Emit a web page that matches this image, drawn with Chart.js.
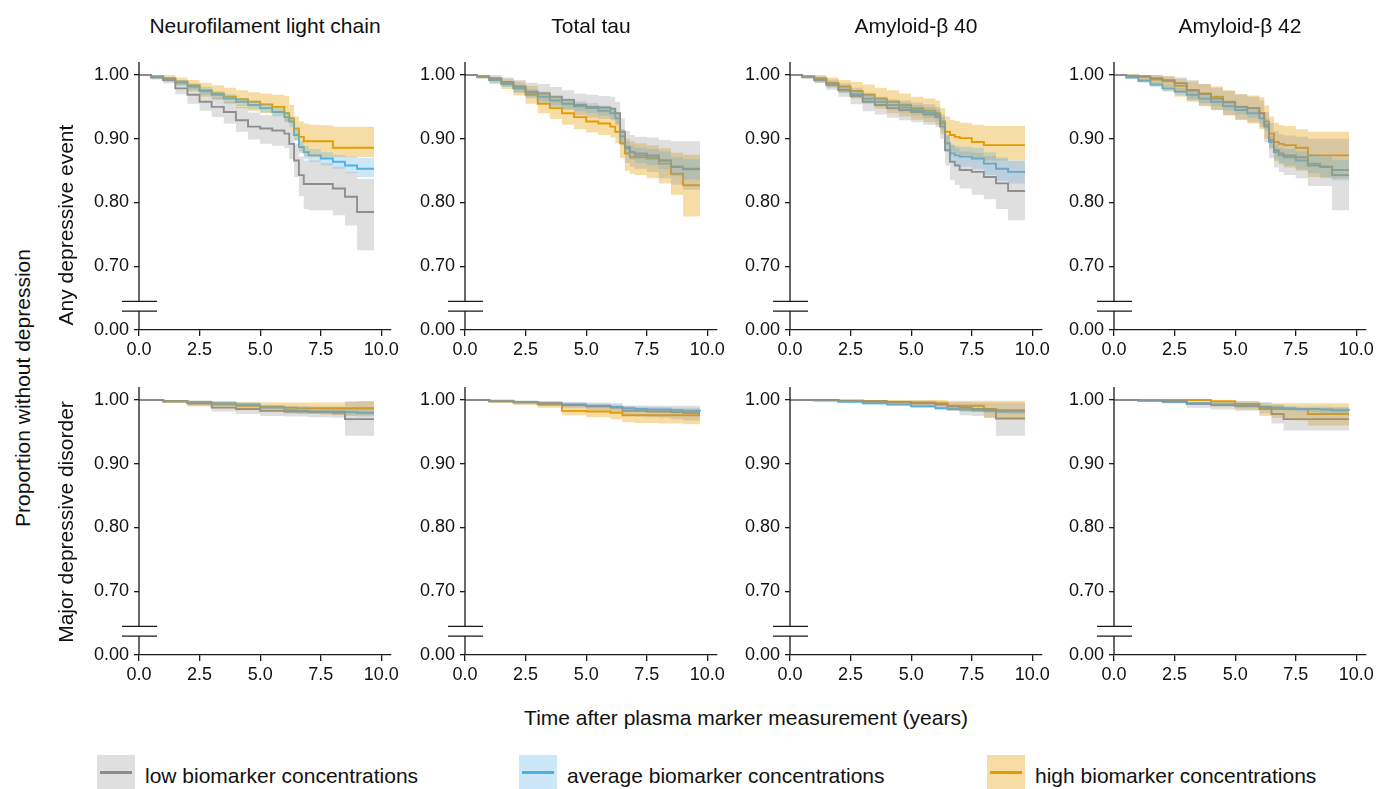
<!DOCTYPE html>
<html>
<head>
<meta charset="utf-8">
<title>Plasma markers and depression</title>
<script src="https://cdn.jsdelivr.net/npm/chart.js@4.4.1/dist/chart.umd.min.js"></script>
<style>
  html, body { margin: 0; padding: 0; background: #fff; }
  body { width: 1389px; height: 789px; position: relative; overflow: hidden;
         font-family: "Liberation Sans", Arial, Helvetica, sans-serif; color: #111; }
  canvas.panel { position: absolute; }
  .txt { position: absolute; white-space: nowrap; font-size: 21px; line-height: 1; transform: translate(-50%, -50%); }
  .rot { transform: translate(-50%, -50%) rotate(-90deg); }
  .key { position: absolute; top: 755px; width: 38px; height: 36px; }
  .key span { position: absolute; left: 3px; right: 3px; top: 16px; height: 3px; }
  .keytxt { position: absolute; top: 775px; font-size: 21px; line-height: 1; transform: translateY(-50%); white-space: nowrap; }
</style>
</head>
<body>
<script>
// ---- labels ----
const markerNames = ['Neurofilament light chain', 'Total tau', 'Amyloid-\u03b2 40', 'Amyloid-\u03b2 42'];
const outcomeNames = ['Any depressive event', 'Major depressive disorder'];
const groupNames = ['low biomarker concentrations', 'average biomarker concentrations', 'high biomarker concentrations'];
const yAxisTitle = 'Proportion without depression';
const xAxisTitle = 'Time after plasma marker measurement (years)';

// ---- ticks (0.60 on the scale is shown as 0.00 below the axis break) ----
const xTicks = [0, 2.5, 5, 7.5, 10];
const yTickValues = [0.6, 0.7, 0.8, 0.9, 1.0];
const yTickLabels = ['0.00', '0.70', '0.80', '0.90', '1.00'];

// ---- time grids (years) ----
const timesAny = [0, 0.5, 1, 1.5, 2, 2.5, 3, 3.5, 4, 4.5, 5, 5.5, 6, 6.2, 6.4, 6.6, 6.8, 7, 7.5, 8, 8.5, 9, 9.7];
const timesMdd = [0, 1, 2, 3, 4, 5, 6, 6.5, 7, 7.5, 8, 8.5, 9, 9.7];

// ---- any depressive event ----
const nflAnyLow      = [1.000,.996,.992,.979,.969,.958,.950,.942,.929,.919,.916,.913,.908,.892,.866,.843,.829,.829,.829,.822,.809,.785,.785];
const nflAnyLowLower = [1.000,.993,.987,.970,.955,.944,.934,.924,.911,.899,.892,.889,.885,.868,.840,.810,.790,.788,.788,.780,.764,.725,.725];
const nflAnyLowUpper = [1.000,.999,.997,.989,.982,.974,.966,.958,.950,.941,.937,.934,.932,.915,.892,.872,.866,.866,.862,.856,.848,.837,.837];
const nflAnyAvg      = [1.000,.997,.993,.988,.982,.975,.969,.963,.958,.953,.948,.942,.934,.927,.906,.887,.879,.874,.869,.864,.858,.853,.853];
const nflAnyAvgLower = [1.000,.995,.990,.984,.977,.969,.962,.956,.951,.946,.941,.934,.926,.918,.897,.877,.868,.864,.858,.853,.846,.840,.838];
const nflAnyAvgUpper = [1.000,.999,.996,.992,.987,.981,.975,.970,.964,.960,.955,.949,.942,.935,.915,.897,.889,.884,.879,.875,.872,.870,.870];
const nflAnyHigh      = [1.000,.998,.995,.990,.984,.976,.971,.966,.962,.958,.954,.950,.940,.932,.916,.903,.896,.896,.896,.886,.886,.886,.886];
const nflAnyHighLower = [1.000,.996,.990,.983,.974,.966,.961,.955,.948,.944,.940,.935,.927,.915,.898,.880,.872,.871,.871,.871,.871,.871,.871];
const nflAnyHighUpper = [1.000,1.000,1.000,.996,.992,.988,.984,.980,.976,.973,.971,.969,.967,.953,.935,.927,.924,.922,.921,.919,.919,.919,.919];

const tauAnyLow      = [1.000,.998,.995,.989,.982,.974,.971,.966,.961,.953,.950,.949,.947,.940,.911,.887,.879,.877,.874,.866,.856,.853,.853];
const tauAnyLowLower = [1.000,.996,.990,.982,.972,.963,.956,.950,.945,.937,.933,.931,.929,.921,.890,.862,.856,.853,.848,.838,.828,.820,.820];
const tauAnyLowUpper = [1.000,1.000,1.000,.996,.992,.988,.986,.981,.976,.971,.969,.967,.966,.958,.932,.912,.906,.903,.902,.898,.896,.896,.896];
const tauAnyAvg      = [1.000,.997,.992,.986,.979,.972,.966,.960,.955,.951,.948,.944,.940,.932,.904,.885,.879,.874,.871,.866,.856,.852,.852];
const tauAnyAvgLower = [1.000,.995,.988,.981,.973,.966,.959,.953,.947,.943,.940,.936,.931,.923,.894,.874,.867,.862,.858,.852,.841,.836,.836];
const tauAnyAvgUpper = [1.000,.999,.996,.991,.985,.978,.973,.967,.963,.959,.956,.952,.949,.941,.914,.896,.890,.886,.884,.880,.871,.868,.868];
const tauAnyHigh      = [1.000,.997,.992,.986,.979,.969,.955,.948,.940,.934,.927,.924,.919,.911,.893,.877,.871,.871,.869,.861,.845,.827,.827];
const tauAnyHighLower = [1.000,.994,.986,.978,.968,.955,.940,.931,.922,.915,.910,.906,.902,.893,.870,.850,.845,.843,.838,.830,.812,.778,.778];
const tauAnyHighUpper = [1.000,1.000,.997,.994,.990,.983,.974,.967,.961,.956,.952,.949,.946,.938,.915,.900,.896,.893,.890,.885,.878,.875,.875];

const ab40AnyLow      = [1.000,.997,.993,.985,.976,.967,.958,.953,.948,.945,.942,.938,.934,.919,.882,.864,.858,.851,.848,.840,.830,.818,.818];
const ab40AnyLowLower = [1.000,.994,.988,.977,.966,.954,.943,.938,.933,.929,.926,.922,.918,.900,.858,.835,.828,.822,.812,.805,.790,.772,.772];
const ab40AnyLowUpper = [1.000,1.000,.998,.993,.987,.980,.972,.966,.962,.960,.957,.954,.950,.938,.905,.890,.885,.880,.878,.873,.868,.865,.865];
const ab40AnyAvg      = [1.000,.997,.992,.985,.977,.970,.963,.958,.953,.949,.945,.941,.937,.924,.893,.877,.874,.872,.869,.861,.853,.848,.848];
const ab40AnyAvgLower = [1.000,.995,.989,.981,.972,.964,.956,.951,.946,.941,.937,.932,.928,.914,.880,.863,.859,.856,.852,.843,.834,.830,.830];
const ab40AnyAvgUpper = [1.000,.999,.995,.989,.982,.976,.970,.965,.960,.957,.953,.950,.946,.934,.906,.891,.889,.888,.886,.879,.871,.866,.866];
const ab40AnyHigh      = [1.000,.998,.995,.988,.982,.975,.969,.963,.958,.953,.948,.944,.940,.927,.911,.906,.903,.901,.895,.890,.890,.890,.890];
const ab40AnyHighLower = [1.000,.995,.988,.980,.972,.963,.955,.947,.940,.935,.930,.926,.922,.908,.890,.880,.877,.875,.870,.866,.866,.866,.866];
const ab40AnyHighUpper = [1.000,1.000,1.000,.996,.992,.989,.985,.980,.976,.971,.966,.963,.960,.948,.935,.930,.928,.925,.922,.920,.920,.920,.920];

const ab42AnyLow      = [1.000,.999,.998,.995,.992,.987,.976,.970,.963,.957,.950,.948,.940,.919,.898,.882,.877,.874,.871,.858,.856,.843,.843];
const ab42AnyLowLower = [1.000,.997,.992,.988,.982,.972,.960,.952,.945,.937,.930,.926,.918,.895,.870,.855,.848,.843,.838,.826,.826,.788,.788];
const ab42AnyLowUpper = [1.000,1.000,1.000,1.000,.998,.996,.992,.986,.980,.975,.970,.966,.960,.942,.925,.912,.907,.905,.903,.900,.900,.900,.900];
const ab42AnyAvg      = [1.000,.996,.991,.985,.979,.974,.969,.963,.958,.951,.945,.940,.932,.922,.895,.879,.874,.871,.866,.861,.856,.851,.851];
const ab42AnyAvgLower = [1.000,.994,.988,.981,.974,.968,.962,.956,.951,.944,.938,.932,.924,.913,.885,.868,.862,.858,.852,.846,.840,.835,.835];
const ab42AnyAvgUpper = [1.000,.998,.994,.989,.984,.980,.975,.970,.965,.958,.952,.948,.940,.931,.905,.890,.886,.884,.880,.876,.872,.867,.867];
const ab42AnyHigh      = [1.000,.999,.997,.993,.990,.983,.976,.971,.966,.958,.950,.948,.940,.927,.908,.895,.892,.890,.886,.874,.874,.874,.874];
const ab42AnyHighLower = [1.000,.996,.990,.983,.975,.966,.958,.951,.945,.937,.930,.924,.915,.900,.885,.865,.860,.855,.850,.840,.838,.838,.838];
const ab42AnyHighUpper = [1.000,1.000,1.000,1.000,.998,.994,.990,.986,.982,.976,.970,.968,.965,.952,.935,.925,.922,.920,.915,.911,.911,.911,.911];

// ---- major depressive disorder ----
const nflMddLow      = [1.000,.998,.995,.988,.986,.983,.982,.982,.981,.981,.980,.970,.970,.970];
const nflMddLowLower = [1.000,.996,.990,.982,.978,.975,.974,.974,.973,.973,.972,.944,.944,.944];
const nflMddLowUpper = [1.000,1.000,.999,.996,.994,.992,.991,.991,.990,.990,.990,.998,.998,.998];
const nflMddAvg      = [1.000,.998,.997,.995,.993,.988,.984,.983,.982,.982,.982,.981,.980,.980];
const nflMddAvgLower = [1.000,.997,.995,.992,.990,.985,.980,.979,.978,.978,.977,.975,.974,.974];
const nflMddAvgUpper = [1.000,.999,.999,.998,.996,.992,.988,.987,.986,.986,.986,.986,.986,.986];
const nflMddHigh      = [1.000,.998,.995,.993,.991,.989,.988,.987,.987,.987,.987,.987,.987,.987];
const nflMddHighLower = [1.000,.996,.991,.988,.984,.981,.979,.978,.978,.977,.976,.976,.976,.976];
const nflMddHighUpper = [1.000,1.000,.999,.998,.997,.996,.996,.996,.996,.996,.996,.997,.998,.998];

const tauMddLow      = [1.000,.998,.997,.995,.992,.990,.988,.983,.983,.982,.982,.981,.980,.980];
const tauMddLowLower = [1.000,.996,.994,.991,.987,.984,.981,.975,.974,.973,.972,.970,.968,.968];
const tauMddLowUpper = [1.000,1.000,.999,.998,.997,.996,.995,.991,.991,.991,.991,.991,.991,.991];
const tauMddAvg      = [1.000,.999,.997,.995,.993,.991,.989,.987,.986,.985,.985,.984,.983,.982];
const tauMddAvgLower = [1.000,.998,.995,.993,.990,.988,.986,.983,.982,.981,.980,.979,.978,.977];
const tauMddAvgUpper = [1.000,1.000,.999,.997,.996,.994,.993,.991,.990,.989,.989,.988,.988,.987];
const tauMddHigh      = [1.000,.998,.996,.993,.983,.982,.980,.976,.976,.976,.976,.976,.976,.976];
const tauMddHighLower = [1.000,.996,.992,.988,.976,.973,.970,.965,.964,.964,.963,.963,.962,.962];
const tauMddHighUpper = [1.000,1.000,.999,.998,.991,.990,.989,.986,.986,.986,.986,.986,.986,.986];

const ab40MddLow      = [1.000,1.000,.999,.998,.997,.995,.993,.990,.988,.986,.985,.971,.971,.971];
const ab40MddLowLower = [1.000,.999,.997,.995,.993,.990,.987,.983,.976,.975,.972,.944,.944,.944];
const ab40MddLowUpper = [1.000,1.000,1.000,1.000,.999,.999,.998,.997,.997,.996,.996,.996,.996,.996];
const ab40MddAvg      = [1.000,.999,.997,.995,.993,.990,.987,.986,.985,.984,.983,.982,.982,.982];
const ab40MddAvgLower = [1.000,.998,.996,.993,.991,.988,.985,.983,.982,.981,.980,.979,.978,.978];
const ab40MddAvgUpper = [1.000,1.000,.998,.997,.995,.992,.990,.989,.988,.987,.986,.986,.986,.986];
const ab40MddHigh      = [1.000,1.000,.999,.998,.997,.996,.995,.991,.991,.991,.986,.984,.984,.984];
const ab40MddHighLower = [1.000,.999,.997,.995,.993,.991,.990,.984,.982,.981,.972,.970,.970,.970];
const ab40MddHighUpper = [1.000,1.000,1.000,1.000,1.000,1.000,1.000,.999,.999,.999,.999,.999,.999,.999];

const ab42MddLow      = [1.000,.999,.998,.994,.992,.991,.988,.978,.970,.970,.970,.970,.970,.970];
const ab42MddLowLower = [1.000,.998,.995,.988,.985,.983,.979,.963,.952,.952,.952,.952,.952,.952];
const ab42MddLowUpper = [1.000,1.000,1.000,.999,.998,.998,.997,.993,.988,.988,.988,.988,.988,.988];
const ab42MddAvg      = [1.000,.999,.997,.995,.993,.991,.989,.988,.987,.986,.986,.985,.984,.983];
const ab42MddAvgLower = [1.000,.998,.995,.993,.990,.988,.985,.984,.983,.982,.981,.980,.979,.978];
const ab42MddAvgUpper = [1.000,1.000,.999,.997,.996,.994,.992,.992,.991,.990,.990,.990,.989,.988];
const ab42MddHigh      = [1.000,1.000,1.000,1.000,.998,.994,.986,.986,.986,.986,.978,.978,.978,.978];
const ab42MddHighLower = [1.000,1.000,1.000,.999,.990,.985,.975,.972,.970,.968,.960,.960,.960,.960];
const ab42MddHighUpper = [1.000,1.000,1.000,1.000,.999,.998,.995,.995,.995,.995,.995,.995,.995,.995];

// ---- panels: [row, col, times, low, average, high] ----
const panels = [
  [0, 0, timesAny, [nflAnyLow, nflAnyLowLower, nflAnyLowUpper], [nflAnyAvg, nflAnyAvgLower, nflAnyAvgUpper], [nflAnyHigh, nflAnyHighLower, nflAnyHighUpper]],
  [0, 1, timesAny, [tauAnyLow, tauAnyLowLower, tauAnyLowUpper], [tauAnyAvg, tauAnyAvgLower, tauAnyAvgUpper], [tauAnyHigh, tauAnyHighLower, tauAnyHighUpper]],
  [0, 2, timesAny, [ab40AnyLow, ab40AnyLowLower, ab40AnyLowUpper], [ab40AnyAvg, ab40AnyAvgLower, ab40AnyAvgUpper], [ab40AnyHigh, ab40AnyHighLower, ab40AnyHighUpper]],
  [0, 3, timesAny, [ab42AnyLow, ab42AnyLowLower, ab42AnyLowUpper], [ab42AnyAvg, ab42AnyAvgLower, ab42AnyAvgUpper], [ab42AnyHigh, ab42AnyHighLower, ab42AnyHighUpper]],
  [1, 0, timesMdd, [nflMddLow, nflMddLowLower, nflMddLowUpper], [nflMddAvg, nflMddAvgLower, nflMddAvgUpper], [nflMddHigh, nflMddHighLower, nflMddHighUpper]],
  [1, 1, timesMdd, [tauMddLow, tauMddLowLower, tauMddLowUpper], [tauMddAvg, tauMddAvgLower, tauMddAvgUpper], [tauMddHigh, tauMddHighLower, tauMddHighUpper]],
  [1, 2, timesMdd, [ab40MddLow, ab40MddLowLower, ab40MddLowUpper], [ab40MddAvg, ab40MddAvgLower, ab40MddAvgUpper], [ab40MddHigh, ab40MddHighLower, ab40MddHighUpper]],
  [1, 3, timesMdd, [ab42MddLow, ab42MddLowLower, ab42MddLowUpper], [ab42MddAvg, ab42MddAvgLower, ab42MddAvgUpper], [ab42MddHigh, ab42MddHighLower, ab42MddHighUpper]]
];

// ---- style / layout ----
const lineColors = ['#8c8c8c', '#4cb0e8', '#e39c00'];
const bandColors = ['rgba(150,150,150,0.30)', 'rgba(86,180,233,0.30)', 'rgba(230,159,0,0.35)'];
const fontFamily = '"Liberation Sans", Arial, Helvetica, sans-serif';
const axisColor = '#1a1a1a';
const colLeft = [139, 465, 790, 1114];   // y-axis x position of each column
const rowTop = [62, 387];                // top of plot area of each row
const plotW = 252, plotH = 268, yAxisW = 70, xAxisH = 40, padTop = 20, padRight = 22;
const breakHigh = 0.645, breakLow = 0.6295;

function points(times, values) {
  return times.map((t, i) => ({ x: t, y: values[i] }));
}

// y axis line with a break, and the two break marks
const axisBreak = {
  id: 'axisBreak',
  afterDraw(chart) {
    const { ctx, chartArea } = chart;
    const y = chart.scales.y;
    const x = chartArea.left;
    const y1 = y.getPixelForValue(breakHigh);
    const y2 = y.getPixelForValue(breakLow);
    ctx.save();
    ctx.strokeStyle = axisColor;
    ctx.lineWidth = 1.3;
    ctx.beginPath();
    ctx.moveTo(x, chartArea.top); ctx.lineTo(x, y1);
    ctx.moveTo(x, y2); ctx.lineTo(x, chartArea.bottom);
    ctx.moveTo(x - 17, y1); ctx.lineTo(x + 18, y1);
    ctx.moveTo(x - 17, y2); ctx.lineTo(x + 18, y2);
    ctx.stroke();
    ctx.restore();
  }
};

function makePanel([row, col, times, ...groups]) {
  const canvas = document.createElement('canvas');
  canvas.className = 'panel';
  canvas.width = yAxisW + plotW + padRight;
  canvas.height = padTop + plotH + xAxisH;
  canvas.style.left = (colLeft[col] - yAxisW) + 'px';
  canvas.style.top = (rowTop[row] - padTop) + 'px';
  document.body.appendChild(canvas);

  const datasets = [];
  groups.forEach(([est, lower, upper], g) => {
    datasets.push({ data: points(times, upper), fill: '+1', backgroundColor: bandColors[g],
                    borderWidth: 0, borderColor: 'transparent', stepped: true, order: 1 });
    datasets.push({ data: points(times, lower), fill: false,
                    borderWidth: 0, borderColor: 'transparent', stepped: true, order: 1 });
    datasets.push({ data: points(times, est), fill: false, borderColor: lineColors[g],
                    borderWidth: 1.9, stepped: true, order: 2 });
  });

  new Chart(canvas, {
    type: 'line',
    data: { datasets },
    options: {
      responsive: false,
      animation: false,
      events: [],
      layout: { padding: { top: padTop, right: padRight, left: 0, bottom: 0 } },
      elements: { point: { radius: 0 }, line: { tension: 0 } },
      plugins: { legend: { display: false }, tooltip: { enabled: false } },
      scales: {
        x: {
          type: 'linear', min: 0, max: 10.4,
          afterBuildTicks: s => { s.ticks = xTicks.map(v => ({ value: v })); },
          afterFit: s => { s.height = xAxisH; },
          grid: { drawOnChartArea: false, tickLength: 6, color: axisColor, lineWidth: 1.3 },
          border: { display: true, color: axisColor, width: 1.3 },
          ticks: { color: '#111', padding: 3, maxRotation: 0, autoSkip: false,
                   font: { size: 18, family: fontFamily }, callback: v => v.toFixed(1) }
        },
        y: {
          type: 'linear', min: 0.6, max: 1.0204,
          afterBuildTicks: s => { s.ticks = yTickValues.map(v => ({ value: v })); },
          afterFit: s => { s.width = yAxisW; },
          grid: { drawOnChartArea: false, tickLength: 5, color: axisColor, lineWidth: 1.3 },
          border: { display: false },
          ticks: { color: '#111', padding: 5, autoSkip: false,
                   font: { size: 18, family: fontFamily }, callback: (v, i) => yTickLabels[i] }
        }
      }
    },
    plugins: [axisBreak]
  });
}

panels.forEach(makePanel);

// ---- text ----
function addText(text, x, y, cls) {
  const d = document.createElement('div');
  d.className = 'txt' + (cls ? ' ' + cls : '');
  d.textContent = text;
  d.style.left = x + 'px';
  d.style.top = y + 'px';
  document.body.appendChild(d);
}
markerNames.forEach((name, c) => addText(name, colLeft[c] + 126, 25));
addText(outcomeNames[0], 65, 225, 'rot');
addText(outcomeNames[1], 65, 522, 'rot');
addText(yAxisTitle, 22, 388, 'rot');
addText(xAxisTitle, 746, 717);

// ---- legend ----
const keyLeft = [97, 519, 987];
groupNames.forEach((name, g) => {
  const box = document.createElement('div');
  box.className = 'key';
  box.style.left = keyLeft[g] + 'px';
  box.style.background = bandColors[g];
  const line = document.createElement('span');
  line.style.background = lineColors[g];
  box.appendChild(line);
  document.body.appendChild(box);
  const t = document.createElement('div');
  t.className = 'keytxt';
  t.style.left = (keyLeft[g] + 48) + 'px';
  t.textContent = name;
  document.body.appendChild(t);
});
</script>
</body>
</html>
